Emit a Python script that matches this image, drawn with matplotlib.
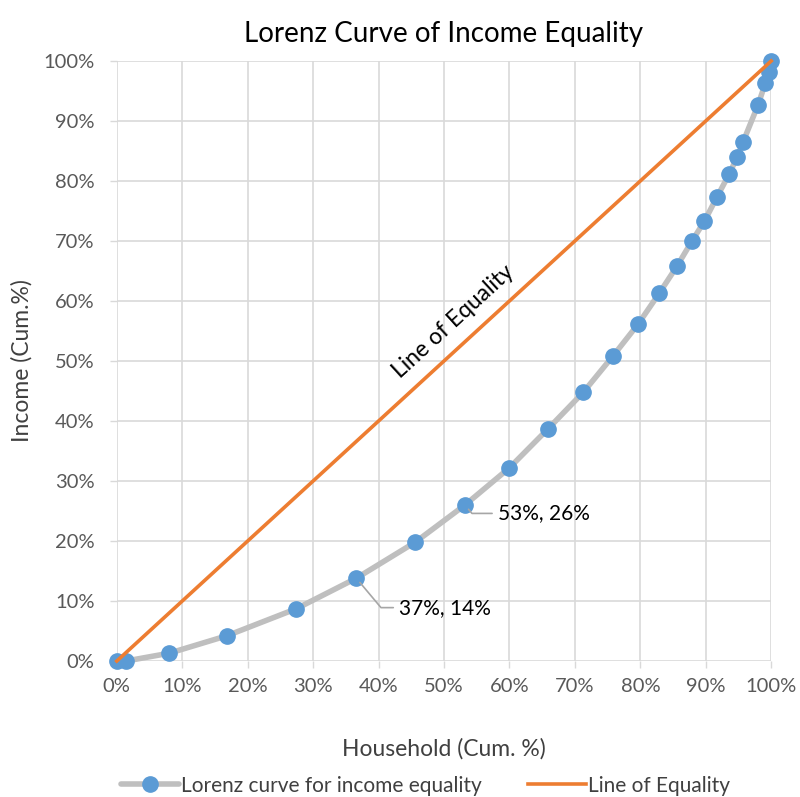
import matplotlib.pyplot as plt
from matplotlib.ticker import PercentFormatter

plt.rcParams['font.family'] = ['Lato', 'DejaVu Sans']

# Cumulative household share vs cumulative income share (percent)
household = [0, 1.4, 8.0, 16.8, 27.4, 36.6, 45.6, 53.2, 60.0, 65.9, 71.3, 75.8,
             79.7, 82.9, 85.6, 87.9, 89.8, 91.7, 93.6, 94.8, 95.7, 98.0, 99.1,
             99.7, 100]
income = [0, 0, 1.3, 4.2, 8.7, 13.8, 19.8, 26.0, 32.2, 38.7, 44.8, 50.8,
          56.2, 61.3, 65.8, 70.0, 73.3, 77.3, 81.2, 84.0, 86.5, 92.7, 96.3,
          98.2, 100]
equality_x = [0, 100]
equality_y = [0, 100]

# points that get a value label: (label x, label y, point x, point y)
labelled = [(37, 14, 36.6, 13.8), (53, 26, 53.2, 26.0)]
label_offsets = [(6.5, -4.9), (5.0, -1.4)]

fig = plt.figure(figsize=(8, 7.97), dpi=100)
ax = fig.add_axes([0.146, 0.1706, 0.818, 0.7529])

ax.plot(household, income, color='#bfbfbf', linewidth=4, marker='o',
        markersize=11, markerfacecolor='#5b9bd5', markeredgecolor='#5b9bd5',
        solid_capstyle='round', label='Lorenz curve for income equality', zorder=3)
ax.plot(equality_x, equality_y, color='#ed7d31', linewidth=2.6,
        label='Line of Equality', zorder=4)

ax.text(51.5, 56.5, 'Line of Equality', rotation=42.5, rotation_mode='anchor',
        ha='center', va='center', fontsize=16.5, color='#000000')

for (lx, ly, px, py), (dx, dy) in zip(labelled, label_offsets):
    ax.annotate(f'{lx}%, {ly}%', xy=(px, py), xytext=(px + dx, py + dy),
                fontsize=15, va='center', ha='left',
                arrowprops=dict(arrowstyle='-', color='#a6a6a6', lw=1.2,
                                connectionstyle='angle,angleA=0,angleB=-50,rad=0',
                                shrinkA=2, shrinkB=4))

ax.set_xlim(0, 100)
ax.set_ylim(0, 100)
ax.set_xticks(range(0, 101, 10))
ax.set_yticks(range(0, 101, 10))
ax.xaxis.set_major_formatter(PercentFormatter(decimals=0))
ax.yaxis.set_major_formatter(PercentFormatter(decimals=0))
ax.tick_params(labelsize=14.5, colors='#595959', length=5, width=1,
               direction='out', pad=7)
ax.tick_params(axis='y', pad=11)
ax.tick_params(color='#d9d9d9')
ax.grid(True, color='#d9d9d9', linewidth=1.2)
ax.set_axisbelow(True)
for s in ax.spines.values():
    s.set_visible(False)
for line in ax.get_lines():
    line.set_clip_on(False)

ax.set_xlabel('Household (Cum. %)', fontsize=16.5, color='#404040', labelpad=31)
ax.set_ylabel('Income (Cum.%)', fontsize=16.5, color='#404040', labelpad=8)
ax.set_title('Lorenz Curve of Income Equality', fontsize=20, pad=14)

ax.legend(loc='upper center', bbox_to_anchor=(0.472, -0.16), ncol=2,
          frameon=False, fontsize=15, handlelength=2.8, columnspacing=2.2,
          handletextpad=0.1, labelcolor='#404040')

fig.savefig('out.png', dpi=100)
